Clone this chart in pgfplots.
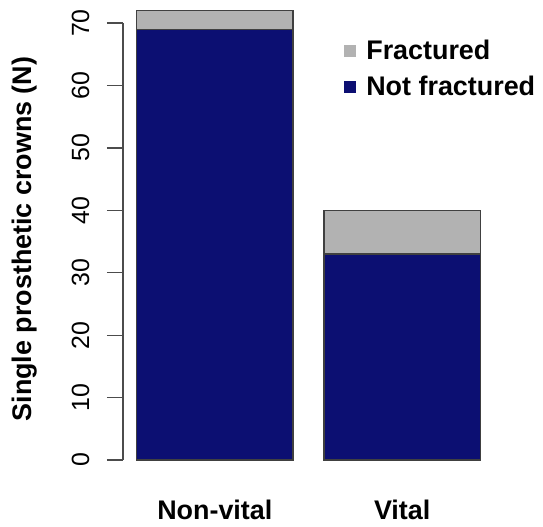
\documentclass[border=0pt]{standalone}
\usepackage{pgfplots}
\pgfplotsset{compat=1.18}
\usepackage{fontspec}
\setmainfont{Liberation Sans}
\definecolor{fracgray}{RGB}{178,178,178}
\definecolor{navyb}{RGB}{12,15,114}
\newcommand{\bigfont}{\fontsize{27}{32}\selectfont}
\newcommand{\tickfont}{\fontsize{25}{30}\selectfont}
\begin{document}
\begin{tikzpicture}
\path[use as bounding box] (0,0) rectangle (543bp,527bp);
\begin{axis}[
  at={(123bp,49bp)}, anchor=south west,
  scale only axis, width=371bp, height=478bp,
  xmin=0.112, xmax=2.488, ymin=-2.88, ymax=73.7,
  axis x line*=bottom, axis y line*=left,
  axis line style={draw=none},
  clip=false,
  ybar stacked, bar width=1,
  ytick={0,10,...,70},
  xtick={0.7,1.9}, xticklabels={Non-vital,Vital},
  tick align=outside,
  major tick length=16bp,
  ytick style={line width=1.2bp, color=black!70},
  xtick style={draw=none},
  yticklabel style={font=\tickfont, xshift=-14bp, rotate=90, anchor=south},
  xticklabel style={font=\bfseries\bigfont, yshift=-2bp},
  /pgf/number format/assume math mode=true,
  every axis y label/.style={at={(axis description cs:-0.266,0.5)}, rotate=90, anchor=center, font=\bfseries\bigfont},
  ylabel={Single prosthetic crowns (N)},
  reverse legend,
  legend style={at={(rel axis cs:0.596,0.92)}, anchor=north west, draw=none, fill=none,
    inner sep=0pt, font=\bfseries\bigfont, row sep=11bp,
    nodes={inner sep=2bp}},
  legend image code/.code={\fill[#1, draw=none] (0bp,-6bp) rectangle (12bp,6bp); \path[draw=none, fill=none] (0bp,0bp) -- (20bp,0bp);},
  legend cell align=left,
]
\addplot[fill=navyb, draw=black!75, line width=1.3bp] coordinates {(0.7,69) (1.9,33)};
\addlegendentry{Not fractured}
\addplot[fill=fracgray, draw=black!75, line width=1.3bp] coordinates {(0.7,3) (1.9,7)};
\addlegendentry{Fractured}
\draw[line width=1.2bp, color=black!70] (axis cs:0.112,0) -- (axis cs:0.112,70);
\end{axis}
\end{tikzpicture}
\end{document}
